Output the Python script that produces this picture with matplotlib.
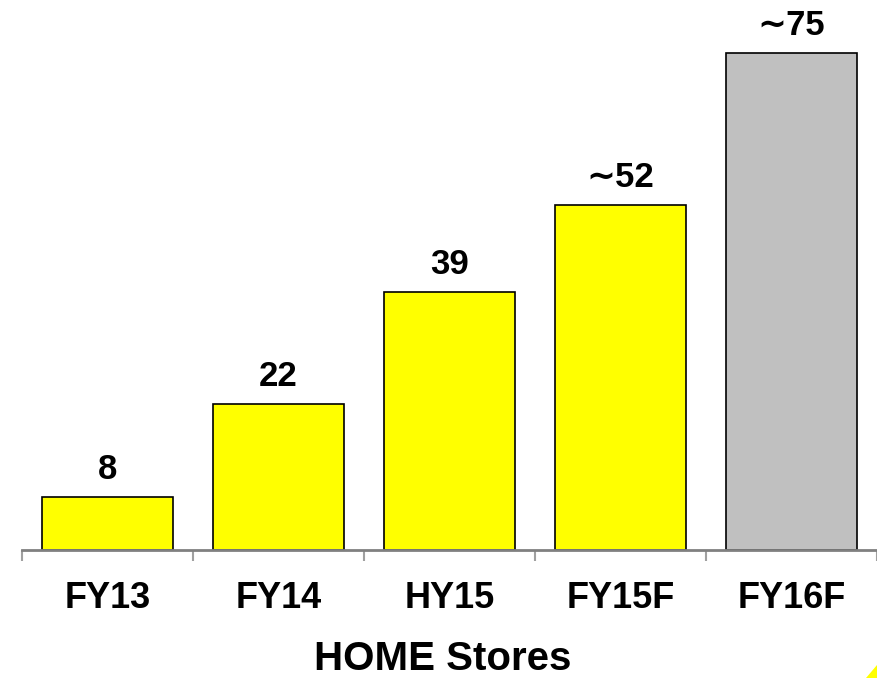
import matplotlib
matplotlib.use("Agg")
import matplotlib.pyplot as plt
from matplotlib.patches import Polygon

plt.rcParams['font.family'] = ['Liberation Sans', 'DejaVu Sans']

# data
categories = ['FY13', 'FY14', 'HY15', 'FY15F', 'FY16F']
stores = [8, 22, 39, 52, 75]
value_labels = ['8', '22', '39', '\u223c52', '\u223c75']
bar_colors = ['#FFFF00', '#FFFF00', '#FFFF00', '#FFFF00', '#C0C0C0']

fig = plt.figure(figsize=(8.77, 6.78), dpi=100)
ax = fig.add_axes([22 / 877, 1 - 550 / 678, 855 / 877, 550 / 678])

x = list(range(len(categories)))
bars = ax.bar(x, stores, width=0.77, color=bar_colors, edgecolor='black', linewidth=1.2, zorder=2)

for bar, lbl in zip(bars, value_labels):
    ax.annotate(lbl, (bar.get_x() + bar.get_width() / 2, bar.get_height()),
                xytext=(0, 13), textcoords='offset points', ha='center', va='baseline',
                fontsize=25, fontweight='bold')

ax.set_xlim(-0.5, len(categories) - 0.5)
ax.set_ylim(0, 83)

# boundary ticks without labels, labels at centres
ax.set_xticks([i - 0.5 for i in range(len(categories) + 1)])
ax.set_xticklabels([])
ax.set_xticks(x, minor=True)
ax.set_xticklabels(categories, minor=True, fontsize=26, fontweight='bold')
ax.tick_params(axis='x', which='major', length=8, width=1.5, color='#A0A0A0', direction='out')
ax.tick_params(axis='x', which='minor', length=0, pad=22)
ax.set_yticks([])

for s in ['top', 'right', 'left']:
    ax.spines[s].set_visible(False)
ax.spines['bottom'].set_color('#808080')
ax.spines['bottom'].set_linewidth(2)

fig.text(0.5046, 1 - 670 / 678, 'HOME Stores', ha='center', va='baseline',
         fontsize=29, fontweight='bold')

# small yellow corner mark
tri = Polygon([(866 / 877, 0), (1, 0), (1, 13 / 678)], closed=True,
              transform=fig.transFigure, facecolor='#FFFF00', edgecolor='none')
fig.patches.append(tri)

fig.savefig('out.png', dpi=100)
